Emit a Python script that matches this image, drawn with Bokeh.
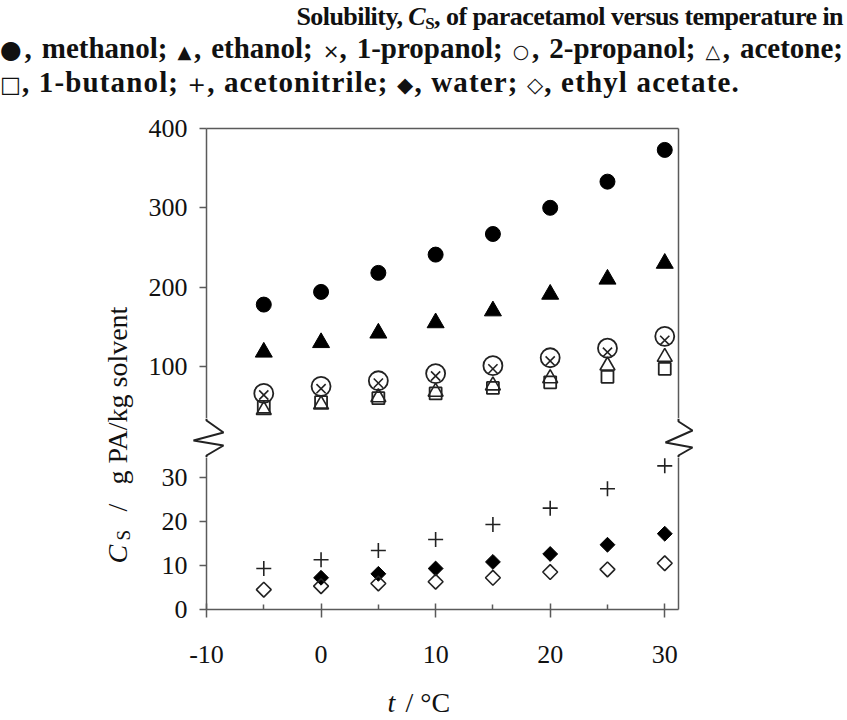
import numpy as np
from bokeh.plotting import figure
from bokeh.models import Range1d, LinearAxis, FixedTicker, Div
from bokeh.layouts import column, row
from bokeh.core.properties import value
from bokeh.embed import file_html
from bokeh.resources import INLINE

# ---------------- data ----------------
temps = [-5, 0, 5, 10, 15, 20, 25, 30]
methanol = [178, 194, 218, 241, 267, 300, 333, 373]
ethanol = [118, 130, 142, 155, 170, 191, 210, 230]
propanol_1 = [64, 72, 79, 88, 97, 107, 118, 133]
propanol_2 = [66, 75, 82, 91, 101, 111, 123, 138]
acetone = [45, 52, 61, 68, 76, 85, 101, 112]
butanol_1 = [49, 55, 60, 66, 73, 80, 87, 97]
acetonitrile = [9.3, 11.3, 13.4, 15.9, 19.3, 23.0, 27.4, 32.6]
water_temps = [0, 5, 10, 15, 20, 25, 30]
water = [7.2, 8.1, 9.3, 10.8, 12.6, 14.7, 17.2]
ethyl_acetate = [4.5, 5.3, 5.9, 6.3, 7.2, 8.5, 9.1, 10.5]

x_ticks = [-10, 0, 10, 20, 30]
x_minor = [-5, 5, 15, 25]
upper_ticks = [100, 200, 300, 400]
lower_ticks = [0, 10, 20, 30]

FONT = "Liberation Serif"
AX = "#5a5a5a"
INK = "#111111"

xr = Range1d(-10, 31.2)


def axis(ticks, minor=None, labels=True, tick_in=0, tick_out=7, minor_in=0):
    ax = LinearAxis(ticker=FixedTicker(ticks=ticks, minor_ticks=minor or []))
    ax.axis_line_color = AX
    ax.axis_line_width = 1.5
    ax.major_tick_line_color = AX
    ax.major_tick_line_width = 1.5
    ax.minor_tick_line_color = AX
    ax.minor_tick_line_width = 1.5
    ax.major_tick_in = tick_in
    ax.major_tick_out = tick_out
    ax.minor_tick_in = minor_in
    ax.minor_tick_out = 0
    ax.major_label_text_font = FONT
    ax.major_label_text_font_size = "26px" if labels else "0px"
    ax.major_label_text_color = INK
    return ax


def base_fig(w, h, xrange, yrange, **kw):
    p = figure(width=w, height=h, x_range=xrange, y_range=yrange, title=None,
               output_backend="svg", toolbar_location=None,
               x_axis_location=None, y_axis_location=None, **kw)
    p.outline_line_color = None
    p.grid.visible = False
    p.background_fill_color = "white"
    p.border_fill_color = "white"
    return p


def free_fig(w, h, xrange, yrange):
    p = base_fig(w, h, xrange, yrange, min_border=0, min_border_left=0,
                 min_border_right=0, min_border_top=0, min_border_bottom=0)
    p.frame_align = False
    return p


# ---------------- upper panel ----------------
upper = base_fig(560, 308, xr, Range1d(34.4, 400),
                 min_border_left=68, min_border_right=20,
                 min_border_top=18, min_border_bottom=0)
ly = axis(upper_ticks)
ly.major_label_standoff = 12
upper.add_layout(ly, "left")
upper.add_layout(axis([], labels=False, tick_out=0), "right")
upper.add_layout(axis([], labels=False, tick_out=0), "above")

upper.scatter(temps, methanol, marker="circle", size=15, color="black")
upper.scatter(temps, ethanol, marker="triangle", size=17, color="black")
upper.scatter(temps, propanol_2, marker="circle", size=19, fill_color=None,
              line_color="#222222", line_width=1.8)
upper.scatter(temps, propanol_1, marker="x", size=13, line_color="#222222", line_width=1.6)
upper.scatter(temps, acetone, marker="triangle", size=15, fill_color=None,
              line_color="#222222", line_width=1.6)
upper.scatter(temps, butanol_1, marker="square", size=12, fill_color=None,
              line_color="#222222", line_width=1.8)

# ---------------- gap with axis-break marks (page pixel coordinates) ----------------
gap = free_fig(560, 39, Range1d(138, 698), Range1d(0, 39))
gap.line([206, 206, 223, 193, 223, 206, 206], [39, 37, 25, 17, 12, 2, 0],
         line_color="#222222", line_width=2)
gap.line([678, 678, 692, 665, 692, 678, 678], [39, 36, 27, 15, 10, 2, 0],
         line_color="#222222", line_width=2)

# ---------------- lower panel ----------------
lower = base_fig(560, 225, xr, Range1d(0, 34.5),
                 min_border_left=68, min_border_right=20,
                 min_border_top=0, min_border_bottom=73)
ly2 = axis(lower_ticks)
ly2.major_label_standoff = 12
lower.add_layout(ly2, "left")
lower.add_layout(axis([], labels=False, tick_out=0), "right")
bx = axis(x_ticks, x_minor, tick_in=6, tick_out=8, minor_in=5)
bx.major_label_standoff = 28
bx.major_label_overrides = {-10: "-10"}
lower.add_layout(bx, "below")

lower.scatter(temps, acetonitrile, marker="cross", size=15, line_color="#222222", line_width=1.6)
lower.scatter(water_temps, water, marker="square", angle=np.pi / 4, size=10.5, color="black")
lower.scatter(temps, ethyl_acetate, marker="square", angle=np.pi / 4, size=10.5,
              fill_color=None, line_color="#222222", line_width=1.6)

# ---------------- x axis title strip ----------------
xlab = free_fig(560, 36, Range1d(138, 698), Range1d(0, 36))
xlab.text(x=[387], y=[16], text=["t"], text_align="left", text_baseline="middle",
          text_font=value(FONT), text_font_style="italic", text_font_size="28px", text_color=INK)
xlab.text(x=[405], y=[16], text=["/ °C"], text_align="left", text_baseline="middle",
          text_font=value(FONT), text_font_size="28px", text_color=INK)

# ---------------- y axis title strip ----------------
ylab = free_fig(138, 608, Range1d(0, 138), Range1d(0, 608))
Y0 = 718  # page y of the bottom of this strip
ylab.text(x=[117], y=[Y0 - 563], text=["C"], angle=np.pi / 2, text_align="left",
          text_baseline="middle", text_font=value(FONT), text_font_style="italic",
          text_font_size="28px", text_color=INK)
ylab.text(x=[123], y=[Y0 - 540], text=["S"], angle=np.pi / 2, text_align="left",
          text_baseline="middle", text_font=value(FONT),
          text_font_size="19px", text_color=INK)
ylab.text(x=[117], y=[Y0 - 511], text=["/"], angle=np.pi / 2, text_align="left",
          text_baseline="middle", text_font=value(FONT),
          text_font_size="28px", text_color=INK)
ylab.text(x=[117], y=[Y0 - 484], text=["g PA/kg solvent"], angle=np.pi / 2, text_align="left",
          text_baseline="middle", text_font=value(FONT),
          text_font_size="28px", text_color=INK)

# ---------------- caption ----------------
SYM = "font-family:'DejaVu Sans',sans-serif;font-weight:normal;line-height:0;"
NW = "white-space:nowrap;"
caption = Div(width=845, height=110, margin=(0, 0, 0, 0), text=f"""
<div style="font-family:'Liberation Serif',serif;font-weight:bold;color:#111;width:843px;padding-top:1px">
<div style="{NW}height:31px;line-height:31px;text-align:right;font-size:26px;letter-spacing:-0.55px">Solubility, <i>C</i><span style="font-size:17px;position:relative;top:4px;line-height:0">S</span>, of paracetamol versus temperature in</div>
<div style="{NW}height:33px;line-height:33px;text-align:justify;text-align-last:justify;font-size:29px"><span style="{SYM}font-size:25px">&#9679;</span>, methanol; <span style="{SYM}font-size:18px">&#9650;</span>, ethanol; <span style="{SYM}font-size:20px">&#215;</span>, 1-propanol; <span style="{SYM}font-size:19px">&#9675;</span>, 2-propanol; <span style="{SYM}font-size:19px">&#9651;</span>, acetone;</div>
<div style="{NW}height:34px;line-height:34px;font-size:29px;letter-spacing:1.15px"><span style="{SYM}font-size:22px">&#9633;</span>, 1-butanol; <span style="{SYM}font-size:22px">+</span>, acetonitrile; <span style="{SYM}font-size:21px">&#9670;</span>, water; <span style="{SYM}font-size:21px">&#9671;</span>, ethyl acetate.</div>
</div>""")

layout = column(caption, row(ylab, column(upper, gap, lower, xlab)))

open("out.html", "w").write(file_html(layout, INLINE))
